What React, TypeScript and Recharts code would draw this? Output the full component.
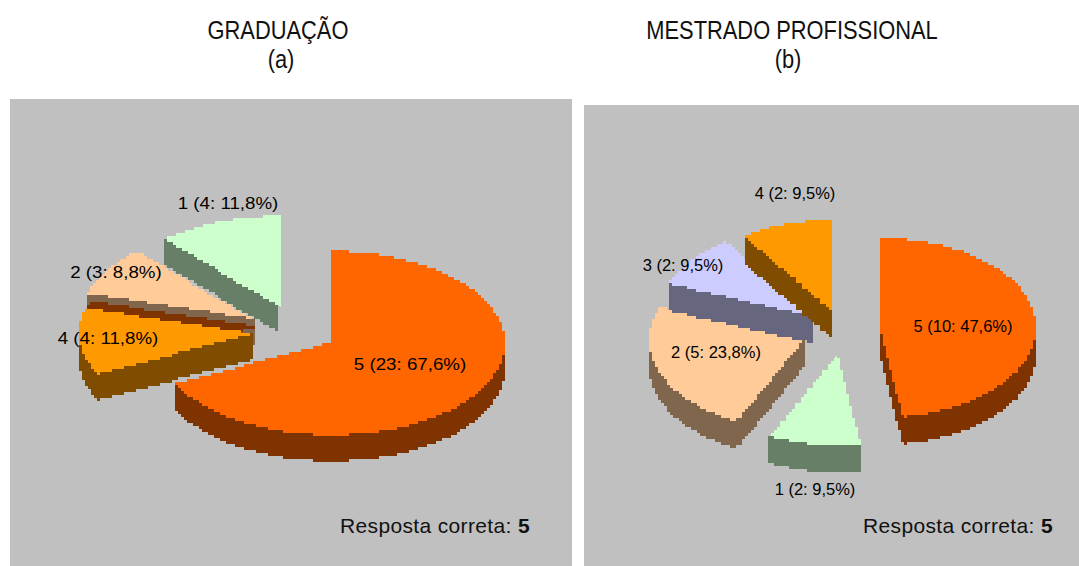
import React from "react";
import { PieChart, Pie } from "recharts";

const FONT = "'Liberation Sans', Arial, sans-serif";

// Graduação (a): listed counter-clockwise from the top, back slices first
const gradCategories = ["1", "2", "4", "5"];
const gradValues = [4, 3, 4, 23];
// Mestrado profissional (b): listed clockwise from the top
const mestCategories = ["5", "1", "2", "3", "4"];
const mestValues = [10, 2, 5, 2, 2];

const sliceColors: Record<string, string> = {
  "5": "#ff6600",
  "4": "#ff9900",
  "3": "#ccccff",
  "2": "#ffcc99",
  "1": "#ccffcc",
};

const buildRows = (cats: string[], vals: number[]) => {
  const total = vals.reduce((a, b) => a + b, 0);
  return cats.map((name, i) => ({
    name,
    value: vals[i],
    fill: sliceColors[name],
    text: `${name} (${vals[i]}: ${((vals[i] / total) * 100).toFixed(1).replace(".", ",")}%)`,
  }));
};

const gradRows = buildRows(gradCategories, gradValues);
const mestRows = buildRows(mestCategories, mestValues);

type Look = {
  ry: number;
  depth: number;
  textScale: number;
  explode: Record<string, [number, number]>;
  labelAt: Record<string, [number, number]>;
  rim?: string;
};

const gradLook: Look = {
  ry: 92,
  depth: 26,
  textScale: 1.135,
  explode: { "5": [0, 0], "4": [-78, -10], "2": [-76, -24], "1": [-50, -35] },
  labelAt: { "5": [79, 21], "4": [-223, -5], "2": [-215, -71], "1": [-103, -140] },
  rim: "4",
};

const mestLook: Look = {
  ry: 90,
  depth: 27,
  textScale: 1,
  explode: { "5": [0, 0], "1": [-43, 27], "2": [-75, 12], "3": [-67, -12], "4": [-48, -18] },
  labelAt: { "5": [83, -2], "4": [-85, -135], "3": [-197, -63], "2": [-164, 24], "1": [-65, 161] },
};

const GRID = 3;

const darken = (hex: string) => {
  const n = parseInt(hex.slice(1), 16);
  const f = (v: number) => Math.floor(v / 2).toString(16).padStart(2, "0");
  return `#${f((n >> 16) & 255)}${f((n >> 8) & 255)}${f(n & 255)}`;
};

const makeShape = (look: Look) => (props: any) => {
  const { cx, cy, outerRadius, startAngle, endAngle, fill } = props;
  const name = props.payload?.name ?? props.name;
  const [ox, oy] = look.explode[name] ?? [0, 0];
  const ax = cx + ox;
  const ay = cy + oy;
  const at = (deg: number) => {
    const r = (deg * Math.PI) / 180;
    return [ax + outerRadius * Math.cos(r), ay - look.ry * Math.sin(r)];
  };
  const raw: number[][] = [];
  const steps = Math.max(8, Math.round(Math.abs(startAngle - endAngle) * 2));
  const a0 = at(startAngle);
  for (let i = 0; i < 40; i++) raw.push([ax + ((a0[0] - ax) * i) / 40, ay + ((a0[1] - ay) * i) / 40]);
  for (let i = 0; i <= steps; i++) raw.push(at(startAngle + ((endAngle - startAngle) * i) / steps));
  const a1 = at(endAngle);
  for (let i = 1; i < 40; i++) raw.push([a1[0] + ((ax - a1[0]) * i) / 40, a1[1] + ((ay - a1[1]) * i) / 40]);
  const snap = (p: number[]) => [
    ax + Math.round((p[0] - ax) / GRID) * GRID,
    ay + Math.round((p[1] - ay) / GRID) * GRID,
  ];
  const pts: number[][] = [];
  raw.map(snap).forEach((p) => {
    const last = pts[pts.length - 1];
    if (!last) pts.push(p);
    else if (last[0] !== p[0] || last[1] !== p[1]) {
      if (last[0] !== p[0] && last[1] !== p[1]) pts.push([p[0], last[1]]);
      pts.push(p);
    }
  });
  const top = pts.map((p, i) => `${i ? "L" : "M"}${p[0]} ${p[1]}`).join("") + "Z";
  let side = "";
  pts.forEach((p, i) => {
    const q = pts[(i + 1) % pts.length];
    if (p[1] === q[1] && p[0] !== q[0]) {
      const l = Math.min(p[0], q[0]);
      const r = Math.max(p[0], q[0]);
      side += `M${l} ${p[1]}H${r}V${p[1] + look.depth}H${l}Z`;
    }
  });
  return (
    <g shapeRendering="crispEdges">
      {look.rim === name && <path d={top} fill="#7f3300" transform="translate(5,-7)" />}
      <path d={side} fill={darken(fill)} />
      <path d={top} fill={fill} />
    </g>
  );
};

const makeLabel = (look: Look) => (props: any) => {
  const { cx, cy } = props;
  const row = props.payload ?? props;
  const [dx, dy] = look.labelAt[row.name] ?? [0, 0];
  return (
    <text
      key={row.name}
      transform={`translate(${cx + dx},${cy + dy}) scale(${look.textScale},1)`}
      textAnchor="middle"
      dominantBaseline="central"
      fontFamily={FONT}
      fontSize={16.5}
      fill="#000000"
    >
      {row.text}
    </text>
  );
};

const panel = (left: number, top: number, width: number, height: number): React.CSSProperties => ({
  position: "absolute",
  left,
  top,
  width,
  height,
  background: "#c0c0c0",
});

const titleStyle = { fontFamily: FONT, fontSize: 25, fill: "#111111" };
const noteStyle = { fontFamily: FONT, fontSize: 21, fill: "#111111", letterSpacing: 0.35 };

export default function App() {
  return (
    <div style={{ position: "absolute", left: 0, top: 0, width: 1079, height: 566, background: "#ffffff", overflow: "hidden" }}>
      <div style={panel(10, 99, 562, 467)} />
      <div style={panel(584, 105, 495, 461)} />
      <div style={{ position: "absolute", left: 0, top: 0 }}>
        <PieChart width={1079} height={566} margin={{ top: 0, right: 0, bottom: 0, left: 0 }}>
          <Pie
            data={gradRows}
            dataKey="value"
            nameKey="name"
            cx={331}
            cy={343}
            innerRadius={0}
            outerRadius={174}
            startAngle={90}
            endAngle={450}
            stroke="none"
            shape={makeShape(gradLook)}
            label={makeLabel(gradLook)}
            labelLine={false}
            isAnimationActive={false}
          />
          <Pie
            data={mestRows}
            dataKey="value"
            nameKey="name"
            cx={880}
            cy={328}
            innerRadius={0}
            outerRadius={156}
            startAngle={90}
            endAngle={-270}
            stroke="none"
            shape={makeShape(mestLook)}
            label={makeLabel(mestLook)}
            labelLine={false}
            isAnimationActive={false}
          />
        </PieChart>
      </div>
      <svg width={1079} height={566} style={{ position: "absolute", left: 0, top: 0, pointerEvents: "none" }}>
        <text transform="translate(278,39) scale(0.875,1)" textAnchor="middle" {...titleStyle}>GRADUAÇÃO</text>
        <text transform="translate(281,68) scale(0.875,1)" textAnchor="middle" {...titleStyle}>(a)</text>
        <text transform="translate(792,39) scale(0.875,1)" textAnchor="middle" {...titleStyle}>MESTRADO PROFISSIONAL</text>
        <text transform="translate(788,68) scale(0.875,1)" textAnchor="middle" {...titleStyle}>(b)</text>
        <text x={340} y={533} {...noteStyle}>Resposta correta: <tspan fontWeight="bold">5</tspan></text>
        <text x={863} y={533} {...noteStyle}>Resposta correta: <tspan fontWeight="bold">5</tspan></text>
      </svg>
    </div>
  );
}
